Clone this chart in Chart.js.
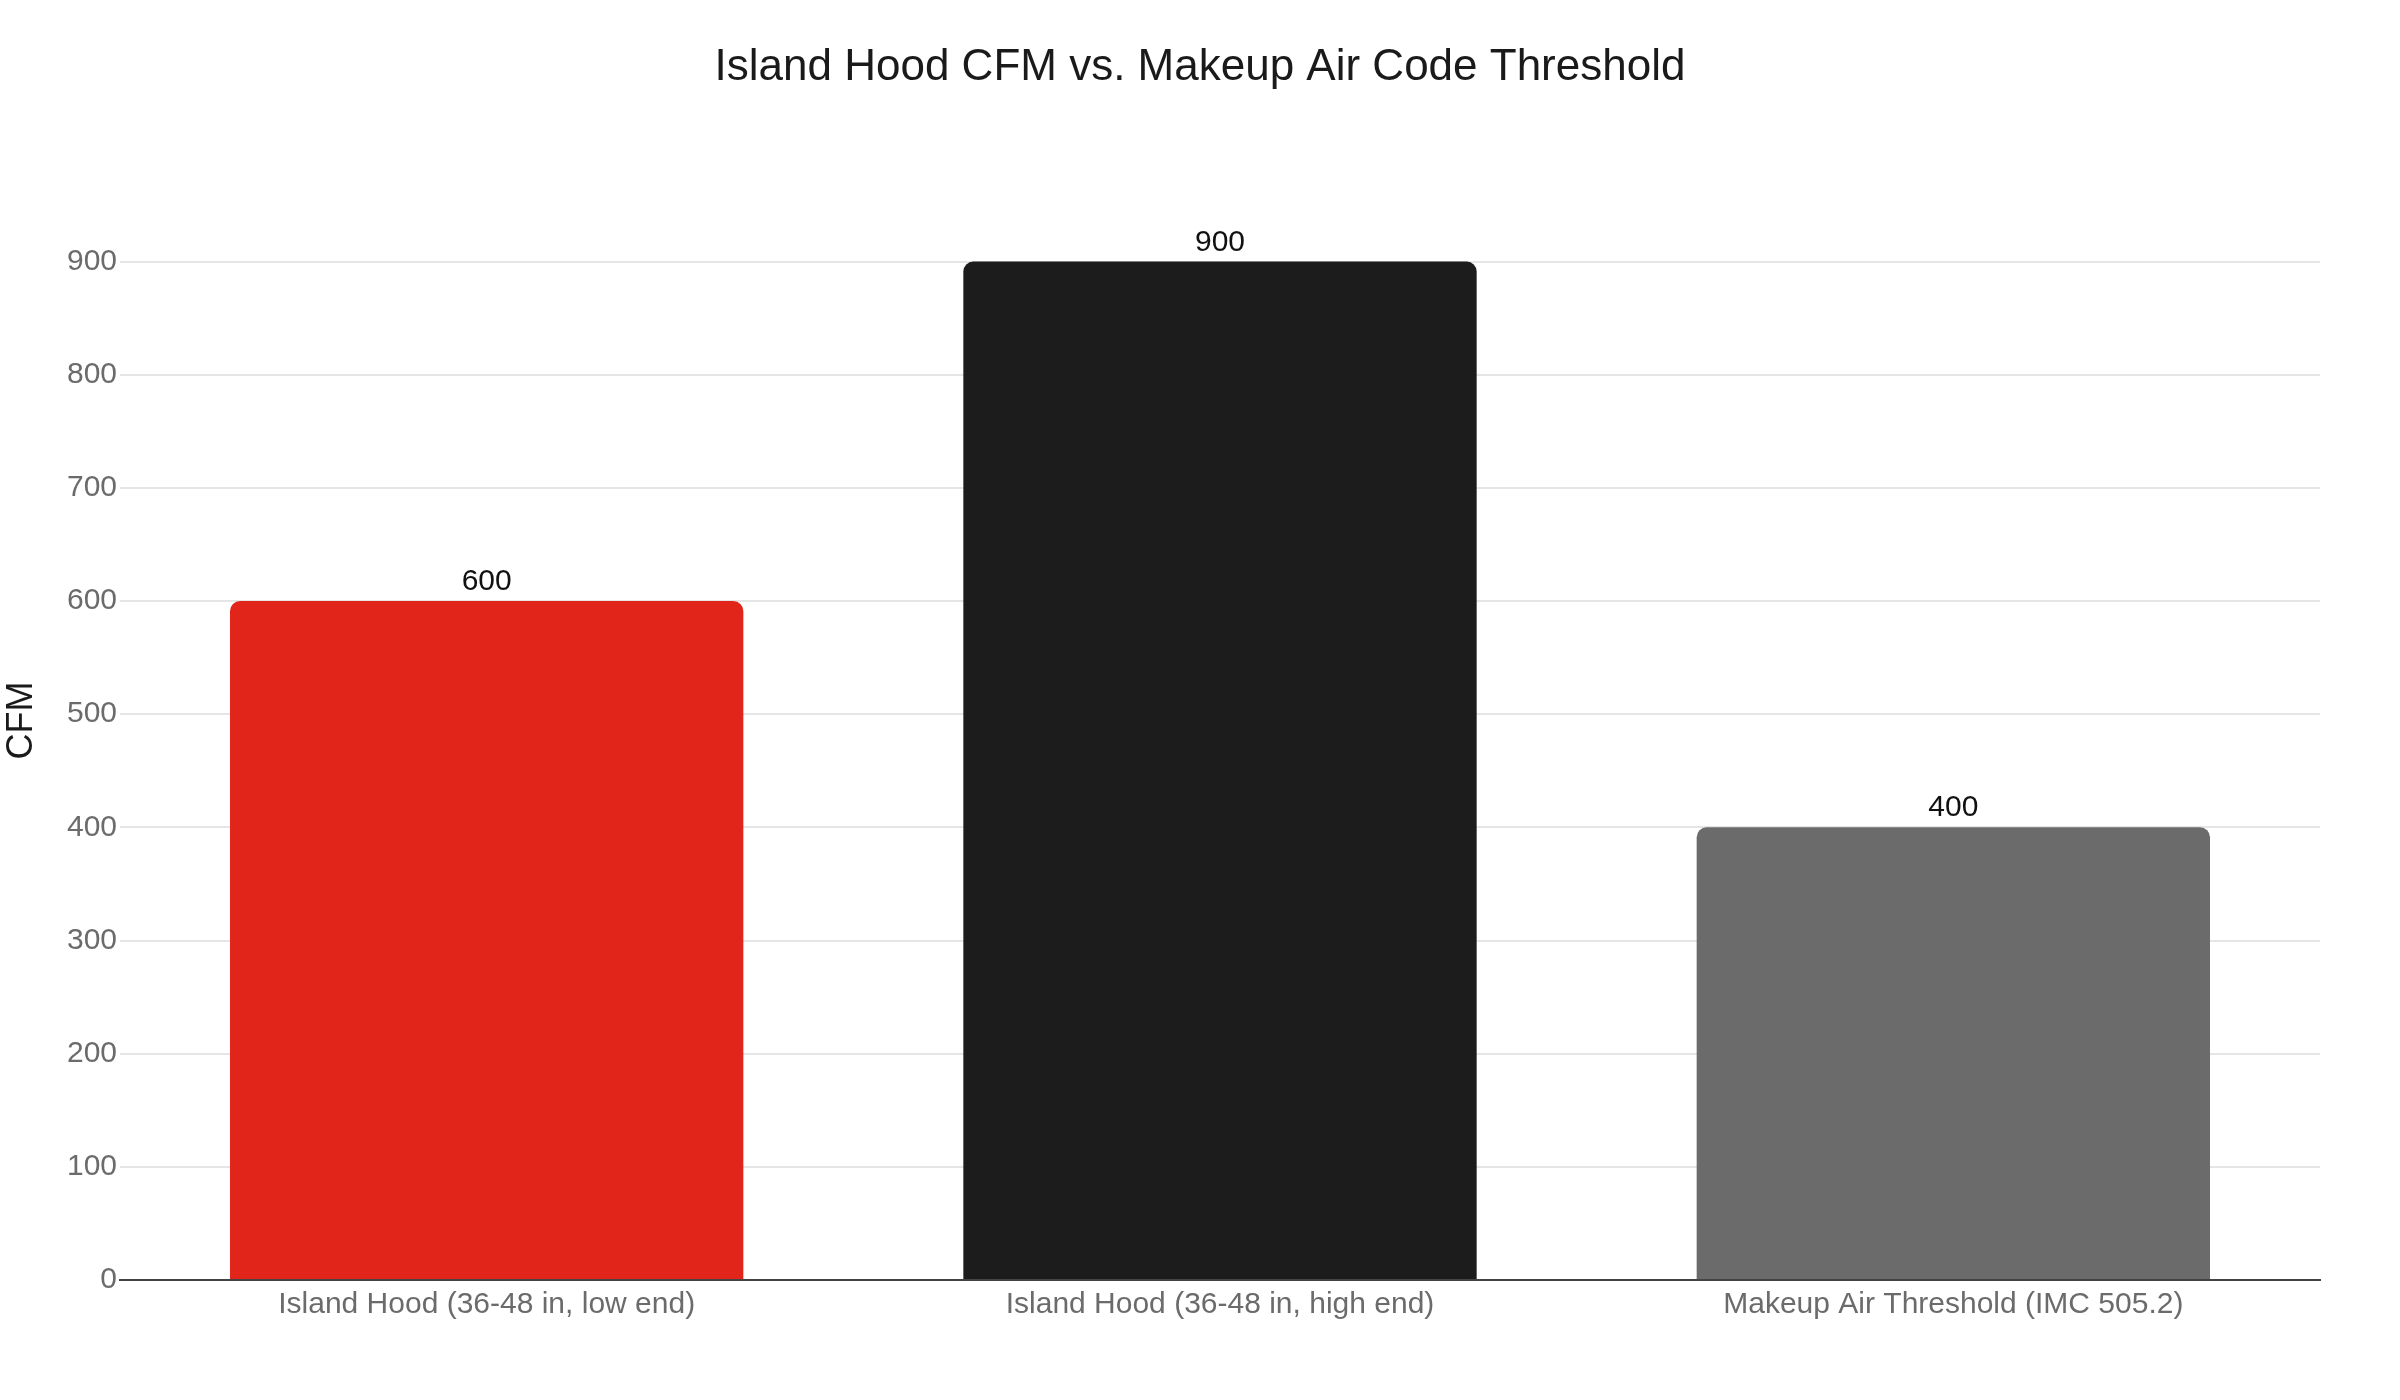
<!DOCTYPE html>
<html>
<head>
<meta charset="utf-8">
<script src="https://cdn.jsdelivr.net/npm/chart.js@4.4.1/dist/chart.umd.min.js"></script>
<style>
  html, body { margin: 0; padding: 0; background: #ffffff; }
  #wrap { width: 2400px; height: 1400px; }
  canvas { display: block; }
</style>
</head>
<body>
<div id="wrap"><canvas id="chart" width="2400" height="1400"></canvas></div>
<script>
const categories = [
  "Island Hood (36-48 in, low end)",
  "Island Hood (36-48 in, high end)",
  "Makeup Air Threshold (IMC 505.2)"
];
const cfmValues = [600, 900, 400];
const barColors = ["#E1251B", "#1C1C1C", "#6B6B6B"];
const yTickValues = [0, 100, 200, 300, 400, 500, 600, 700, 800, 900];
const chartTitle = "Island Hood CFM vs. Makeup Air Code Threshold";
const yAxisTitle = "CFM";

const FONT = "'Liberation Sans', Arial, Helvetica, sans-serif";

const valueLabels = {
  id: 'valueLabels',
  afterDatasetsDraw(chart) {
    const ctx = chart.ctx;
    const meta = chart.getDatasetMeta(0);
    ctx.save();
    ctx.font = "30px " + FONT;
    ctx.fillStyle = "#111111";
    ctx.textAlign = "center";
    ctx.textBaseline = "alphabetic";
    meta.data.forEach((bar, i) => {
      ctx.fillText(String(chart.data.datasets[0].data[i]), bar.x, bar.y - 11);
    });
    ctx.restore();
  }
};

new Chart(document.getElementById('chart'), {
  type: 'bar',
  data: {
    labels: categories,
    datasets: [{
      data: cfmValues,
      backgroundColor: barColors,
      borderWidth: 0,
      borderRadius: { topLeft: 10, topRight: 10, bottomLeft: 0, bottomRight: 0 },
      borderSkipped: 'start',
      barPercentage: 0.7,
      categoryPercentage: 1.0,
      yAxisID: 'y'
    }]
  },
  options: {
    responsive: false,
    devicePixelRatio: 1,
    animation: false,
    layout: { padding: { left: 0, right: 0, top: 0, bottom: 0 } },
    plugins: {
      legend: { display: false },
      tooltip: { enabled: false },
      title: {
        display: true,
        text: chartTitle,
        color: "#1a1a1a",
        font: { family: FONT, size: 44, weight: 'normal', lineHeight: 1.2 },
        padding: { top: 41, bottom: 67 }
      }
    },
    scales: {
      x: {
        z: 1,
        grid: { display: false, drawTicks: false },
        border: { display: true, color: "#444444", width: 2 },
        ticks: {
          color: "#6b6b6b",
          font: { family: FONT, size: 30 },
          padding: 7,
          maxRotation: 0,
          autoSkip: false
        },
        afterFit(scale) { scale.height = 120; }
      },
      y: {
        position: 'left',
        min: 0,
        max: 989,
        grid: {
          color: (c) => (c.tick && c.tick.value === 0) ? 'rgba(0,0,0,0)' : '#e5e5e5',
          lineWidth: 2,
          drawTicks: false
        },
        border: { display: false },
        ticks: {
          color: "#6b6b6b",
          font: { family: FONT, size: 30 },
          padding: 3,
          stepSize: 100
        },
        afterBuildTicks(scale) {
          scale.ticks = yTickValues.map(v => ({ value: v }));
        },
        title: {
          display: true,
          text: yAxisTitle,
          color: "#1a1a1a",
          font: { family: FONT, size: 36, lineHeight: 1.2 },
          padding: { top: 0, bottom: 0 }
        },
        afterFit(scale) { scale.width = 120; }
      },
      rightSpace: {
        type: 'linear',
        position: 'right',
        display: true,
        grid: { display: false, drawTicks: false },
        border: { display: false },
        ticks: { display: false },
        afterFit(scale) { scale.width = 80; }
      }
    }
  },
  plugins: [valueLabels]
});
</script>
</body>
</html>
